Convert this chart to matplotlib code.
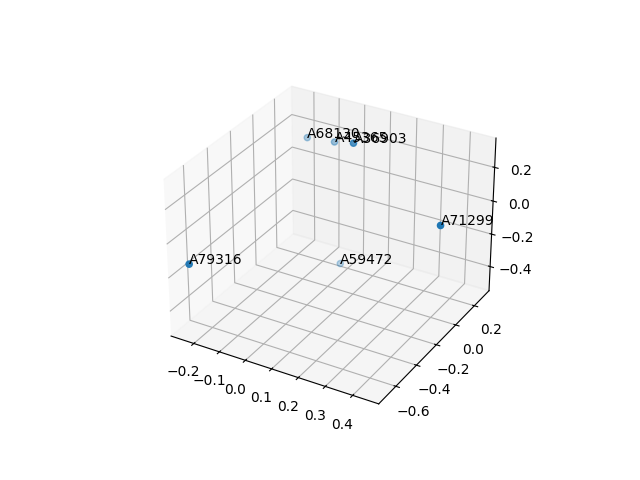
import matplotlib
matplotlib.use("Agg")
import matplotlib.pyplot as plt

labels = ["A68130", "A45365", "A36903", "A71299", "A79316", "A59472"]
xs = [-0.198, -0.0895, 0.071, 0.444, -0.24, -0.0075]
ys = [0.29, 0.29, 0.071, -0.051, -0.69, 0.144]
zs = [0.130, 0.1475, 0.3125, 0.0533, -0.134, -0.4925]

fig = plt.figure(figsize=(6.4, 4.8), dpi=100)
ax = fig.add_subplot(projection="3d")
ax.scatter(xs, ys, zs)
for x, y, z, name in zip(xs, ys, zs, labels):
    ax.text(x, y, z, name)

fig.savefig("out.png")
